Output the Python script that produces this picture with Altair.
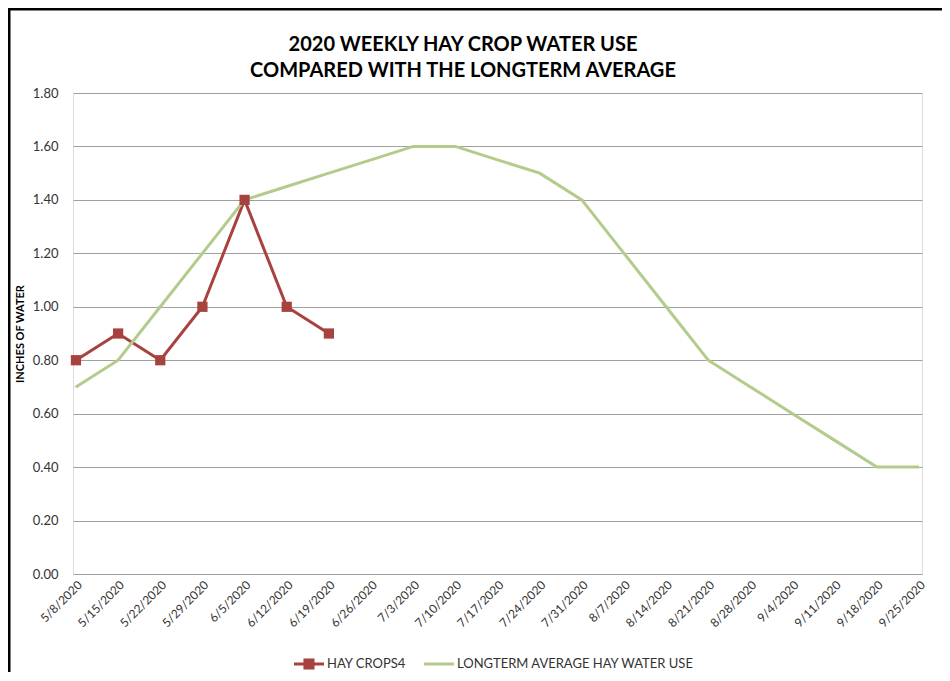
import altair as alt
import pandas as pd

dates = ["5/8/2020", "5/15/2020", "5/22/2020", "5/29/2020", "6/5/2020", "6/12/2020",
         "6/19/2020", "6/26/2020", "7/3/2020", "7/10/2020", "7/17/2020", "7/24/2020",
         "7/31/2020", "8/7/2020", "8/14/2020", "8/21/2020", "8/28/2020", "9/4/2020",
         "9/11/2020", "9/18/2020", "9/25/2020"]
hay_crops4 = [0.80, 0.90, 0.80, 1.00, 1.40, 1.00, 0.90]
longterm = [0.70, 0.80, 1.00, 1.20, 1.40, 1.45, 1.50, 1.55, 1.60, 1.60, 1.55, 1.50,
            1.40, 1.20, 1.00, 0.80, 0.70, 0.60, 0.50, 0.40, 0.40]
series_names = ["HAY CROPS4", "LONGTERM AVERAGE HAY WATER USE"]
colors = ["#A8423F", "#B3CB8C"]
y_ticks = [0.0, 0.2, 0.4, 0.6, 0.8, 1.0, 1.2, 1.4, 1.6, 1.8]
title_lines = ["2020 WEEKLY HAY CROP WATER USE", "COMPARED WITH THE LONGTERM AVERAGE"]

FONT = "Lato"

rows = []
for d, v in zip(dates, hay_crops4):
    rows.append({"date": d, "value": v, "series": series_names[0]})
for d, v in zip(dates, longterm):
    rows.append({"date": d, "value": v, "series": series_names[1]})
df = pd.DataFrame(rows)
df_hay = df[df["series"] == series_names[0]]

x_enc = alt.X("date:N", sort=dates, scale=alt.Scale(padding=0.07),
              axis=alt.Axis(title=None, labelAngle=-45, labelFontSize=12, labelFont=FONT,
                            labelColor="#333333", domain=False, ticks=False, grid=False,
                            labelPadding=5))
y_enc = alt.Y("value:Q", scale=alt.Scale(domain=[0, 1.8], nice=False),
              axis=alt.Axis(title="INCHES OF WATER", values=y_ticks, format=".2f",
                            labelFontSize=13, labelFont=FONT, labelColor="#333333",
                            titleFont=FONT, titleFontSize=11, titleFontWeight="bold",
                            titleColor="#000000", titlePadding=7,
                            domain=False, ticks=False, grid=True, gridColor="#A0A0A0",
                            gridWidth=1, labelPadding=15))

path_red = "M-1,-0.1H1V0.1H-1Z M-0.37,-0.37H0.37V0.37H-0.37Z"
path_green = "M-1,-0.1H1V0.1H-1Z"
leg = alt.Legend(title=None, orient="none", legendX=221, legendY=556, direction="horizontal",
                 symbolSize=900, symbolStrokeWidth=0, symbolOpacity=1, symbolFillColor=None,
                 labelFont=FONT, labelFontSize=13, labelColor="#333333", labelOffset=3,
                 labelLimit=400, columnPadding=18)

lines = alt.Chart(df).mark_line(strokeWidth=3).encode(
    x=x_enc, y=y_enc,
    color=alt.Color("series:N", scale=alt.Scale(domain=series_names, range=colors),
                    legend=leg),
    shape=alt.Shape("series:N", scale=alt.Scale(domain=series_names, range=[path_red, path_green]),
                    legend=leg),
)

markers = alt.Chart(df_hay).mark_point(shape="square", filled=True, size=105,
                                       opacity=1, color=colors[0]).encode(
    x=alt.X("date:N", sort=dates), y="value:Q"
)

border = alt.Chart(alt.Data(values=[{}])).mark_rect(filled=False, stroke="black",
                                                    strokeWidth=3).encode(
    x=alt.value(-64), x2=alt.value(1000), y=alt.value(-84), y2=alt.value(800)
)

title1 = alt.Chart(alt.Data(values=[{}])).mark_text(
    text=title_lines[0], font=FONT, fontSize=20, fontWeight="bold", color="#000000",
    align="center", baseline="alphabetic").encode(x=alt.value(390), y=alt.value(-42))
title2 = alt.Chart(alt.Data(values=[{}])).mark_text(
    text=title_lines[1], font=FONT, fontSize=20, fontWeight="bold", color="#000000",
    align="center", baseline="alphabetic").encode(x=alt.value(390), y=alt.value(-16))

chart = alt.layer(border, title1, title2, lines, markers).properties(
    width=849, height=481,
    autosize=alt.AutoSizeParams(type="none"),
    padding={"left": 65, "top": 85, "right": 20, "bottom": 98},
).configure_view(stroke=None).configure(background="white")

chart.save("out.html", embed_options={"renderer": "svg", "actions": False})
